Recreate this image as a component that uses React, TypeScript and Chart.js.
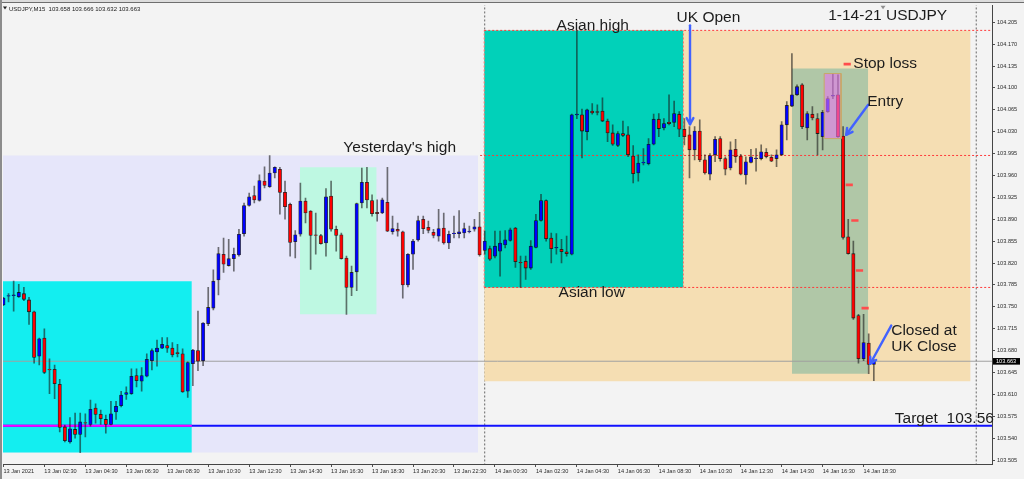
import React, { useEffect, useRef } from "react";
import { Chart, registerables } from "chart.js";

Chart.register(...registerables);

// USDJPY M15 candles, 13 Jan 2021 00:30 through 14 Jan 2021 19:00 (index = bar number)
const opens = [
  103.753, 103.767, 103.768, 103.766, 103.771, 103.761, 103.742, 103.671, 103.700, 103.650,
  103.650, 103.626, 103.558, 103.534, 103.554, 103.546, 103.565, 103.562, 103.588, 103.578,
  103.570, 103.562, 103.582, 103.592, 103.610, 103.611, 103.640, 103.631, 103.639, 103.664,
  103.678, 103.684, 103.688, 103.684, 103.677, 103.675, 103.615, 103.659, 103.680, 103.664,
  103.723, 103.748, 103.793, 103.834, 103.816, 103.827, 103.833, 103.867, 103.912, 103.928,
  103.920, 103.951, 103.942, 103.964, 103.970, 103.933, 103.914, 103.854, 103.866, 103.919,
  103.903, 103.865, 103.864, 103.852, 103.927, 103.874, 103.865, 103.828, 103.781, 103.806,
  103.916, 103.949, 103.920, 103.901, 103.900, 103.917, 103.870, 103.874, 103.870, 103.785,
  103.834, 103.857, 103.890, 103.877, 103.869, 103.863, 103.876, 103.852, 103.867, 103.867,
  103.868, 103.870, 103.874, 103.878, 103.840, 103.843, 103.831, 103.839, 103.849, 103.856,
  103.876, 103.821, 103.823, 103.812, 103.845, 103.888, 103.920, 103.860, 103.844, 103.842,
  103.838, 103.834, 104.057, 104.057, 104.030, 104.063, 104.062, 104.063, 104.047, 104.028,
  104.008, 104.027, 104.025, 103.991, 103.964, 103.980, 103.979, 104.010, 104.050, 104.036,
  104.045, 104.045, 104.058, 104.034, 104.025, 104.001, 104.031, 103.985, 103.962, 103.993,
  104.019, 103.987, 103.972, 104.002, 103.991, 103.961, 103.981, 103.987, 103.987, 103.997,
  103.989, 103.987, 103.993, 104.041, 104.071, 104.089, 104.105, 104.036, 104.058, 104.051,
  104.022, 104.062, 104.087, 104.089, 104.023, 103.862, 103.835, 103.736, 103.667, 103.692,
  103.658,
];
const highs = [
  103.765, 103.771, 103.791, 103.786, 103.781, 103.765, 103.743, 103.700, 103.715, 103.667,
  103.657, 103.634, 103.561, 103.573, 103.580, 103.580, 103.579, 103.601, 103.595, 103.585,
  103.577, 103.599, 103.599, 103.615, 103.622, 103.651, 103.651, 103.653, 103.675, 103.683,
  103.697, 103.701, 103.701, 103.693, 103.690, 103.683, 103.662, 103.682, 103.743, 103.725,
  103.781, 103.809, 103.845, 103.860, 103.858, 103.844, 103.874, 103.916, 103.932, 103.943,
  103.961, 103.974, 103.992, 103.974, 103.973, 103.951, 103.916, 103.872, 103.948, 103.924,
  103.904, 103.900, 103.866, 103.939, 103.951, 103.879, 103.868, 103.831, 103.815, 103.916,
  103.972, 103.973, 103.929, 103.921, 103.924, 103.973, 103.895, 103.884, 103.871, 103.835,
  103.858, 103.895, 103.895, 103.887, 103.874, 103.906, 103.900, 103.871, 103.895, 103.904,
  103.884, 103.879, 103.890, 103.901, 103.871, 103.847, 103.871, 103.871, 103.872, 103.876,
  103.877, 103.831, 103.831, 103.856, 103.898, 103.930, 103.921, 103.868, 103.867, 103.858,
  103.863, 104.058, 104.192, 104.066, 104.066, 104.075, 104.073, 104.084, 104.050, 104.041,
  104.030, 104.047, 104.038, 104.008, 103.993, 104.003, 104.019, 104.058, 104.059, 104.051,
  104.089, 104.079, 104.062, 104.051, 104.038, 104.038, 104.049, 103.993, 103.995, 104.022,
  104.022, 103.990, 104.014, 104.018, 103.994, 103.990, 104.002, 104.003, 104.009, 104.003,
  103.993, 104.001, 104.046, 104.078, 104.155, 104.105, 104.107, 104.062, 104.070, 104.059,
  104.064, 104.086, 104.123, 104.121, 104.038, 103.890, 103.855, 103.738, 103.738, 103.707,
  103.666,
];
const lows = [
  103.752, 103.758, 103.743, 103.765, 103.760, 103.722, 103.660, 103.657, 103.643, 103.611,
  103.603, 103.550, 103.534, 103.532, 103.540, 103.517, 103.542, 103.559, 103.564, 103.562,
  103.548, 103.561, 103.570, 103.590, 103.602, 103.610, 103.622, 103.615, 103.638, 103.649,
  103.655, 103.683, 103.677, 103.670, 103.670, 103.613, 103.605, 103.624, 103.648, 103.656,
  103.720, 103.745, 103.769, 103.805, 103.815, 103.807, 103.831, 103.863, 103.911, 103.916,
  103.919, 103.940, 103.941, 103.956, 103.898, 103.890, 103.831, 103.828, 103.863, 103.884,
  103.810, 103.834, 103.850, 103.831, 103.871, 103.839, 103.826, 103.738, 103.768, 103.776,
  103.908, 103.908, 103.895, 103.887, 103.899, 103.870, 103.866, 103.863, 103.764, 103.782,
  103.810, 103.855, 103.867, 103.868, 103.860, 103.855, 103.850, 103.843, 103.860, 103.860,
  103.860, 103.868, 103.871, 103.831, 103.834, 103.824, 103.828, 103.799, 103.844, 103.855,
  103.813, 103.781, 103.794, 103.810, 103.844, 103.887, 103.855, 103.820, 103.834, 103.820,
  103.831, 103.833, 104.051, 103.988, 104.017, 104.058, 104.057, 104.046, 104.014, 104.008,
  104.006, 104.022, 103.990, 103.948, 103.951, 103.977, 103.977, 104.009, 104.022, 104.033,
  104.041, 104.038, 104.022, 104.009, 103.956, 103.985, 103.982, 103.962, 103.953, 103.982,
  103.983, 103.961, 103.969, 103.981, 103.961, 103.946, 103.980, 103.967, 103.985, 103.988,
  103.982, 103.974, 103.992, 104.017, 104.070, 104.088, 104.035, 104.017, 104.049, 103.993,
  104.001, 104.061, 104.083, 104.021, 103.858, 103.834, 103.730, 103.660, 103.664, 103.643,
  103.632,
];
const closes = [
  103.764, 103.768, 103.769, 103.773, 103.762, 103.742, 103.669, 103.699, 103.645, 103.649,
  103.627, 103.557, 103.536, 103.555, 103.546, 103.566, 103.564, 103.586, 103.578, 103.571,
  103.562, 103.579, 103.591, 103.609, 103.613, 103.639, 103.632, 103.640, 103.666, 103.680,
  103.684, 103.690, 103.684, 103.673, 103.675, 103.614, 103.661, 103.681, 103.663, 103.724,
  103.749, 103.791, 103.835, 103.818, 103.827, 103.834, 103.866, 103.912, 103.926, 103.921,
  103.952, 103.944, 103.964, 103.973, 103.933, 103.910, 103.853, 103.865, 103.919, 103.900,
  103.864, 103.864, 103.851, 103.926, 103.874, 103.864, 103.827, 103.781, 103.805, 103.915,
  103.949, 103.921, 103.899, 103.899, 103.921, 103.871, 103.875, 103.871, 103.785, 103.834,
  103.855, 103.888, 103.875, 103.872, 103.864, 103.875, 103.852, 103.866, 103.868, 103.870,
  103.875, 103.871, 103.878, 103.833, 103.855, 103.826, 103.847, 103.852, 103.857, 103.873,
  103.822, 103.820, 103.812, 103.847, 103.888, 103.920, 103.859, 103.843, 103.845, 103.838,
  103.835, 104.057, 104.058, 104.031, 104.065, 104.060, 104.061, 104.047, 104.028, 104.010,
  104.027, 104.024, 103.993, 103.963, 103.980, 103.981, 104.010, 104.050, 104.035, 104.043,
  104.043, 104.059, 104.034, 104.022, 104.001, 104.031, 103.985, 103.964, 103.992, 104.018,
  103.987, 103.970, 104.001, 103.990, 103.962, 103.982, 103.990, 103.988, 103.998, 103.990,
  103.983, 103.993, 104.041, 104.072, 104.089, 104.102, 104.038, 104.059, 104.052, 104.027,
  104.061, 104.083, 104.088, 104.022, 103.861, 103.835, 103.732, 103.667, 103.693, 103.658,
  103.663,
];

const symbol = "USDJPY,M15";

// bottom axis: one label every 8 bars (2 hours)
const timeLabels = [
  "13 Jan 2021", "13 Jan 02:30", "13 Jan 04:30", "13 Jan 06:30", "13 Jan 08:30", "13 Jan 10:30",
  "13 Jan 12:30", "13 Jan 14:30", "13 Jan 16:30", "13 Jan 18:30", "13 Jan 20:30", "13 Jan 22:30",
  "14 Jan 00:30", "14 Jan 02:30", "14 Jan 04:30", "14 Jan 06:30", "14 Jan 08:30", "14 Jan 10:30",
  "14 Jan 12:30", "14 Jan 14:30", "14 Jan 16:30", "14 Jan 18:30",
];
const labelEvery = 8;

// right axis price labels
const priceTicks = [
  104.205, 104.17, 104.135, 104.1, 104.065, 104.03, 103.995, 103.96, 103.925, 103.89, 103.855,
  103.82, 103.785, 103.75, 103.715, 103.68, 103.645, 103.61, 103.575, 103.54, 103.505,
];

// day separators (bar index of midnight)
const daySeparators = [94, 190];

// session levels
const yesterdayHigh = 103.992;
const yesterdayLow = 103.517;
const earlyAsianHigh = 103.791;
const asianHigh = 104.192;
const asianLow = 103.781;
const targetLevel = 103.56;

// box spans in bars
const yesterdaySpan = [-1, 92.7];
const earlyAsianSpan = [-1, 36.8];
const pullbackSpan = [57.9, 72.9];
const pullbackLevels = [103.973, 103.738];
const asianSpan = [93.9, 132.8];
const sessionSpan = [93.9, 188.9];
const sessionLow = 103.631;
const tradeSpan = [154.0, 168.9];
const tradeLevels = [104.131, 103.643];
const setupSpan = [160.3, 163.6];
const setupLevels = [104.123, 104.019];

// trailing stop marks
const stopBars = [164.8, 165.2, 166.3, 167.2, 168.3];
const stopPrices = [104.138, 103.945, 103.888, 103.808, 103.748];

// arrows: [fromBar, fromPrice, toBar, toPrice]
const arrows = [
  [134.1, 104.2, 134.1, 104.042],
  [168.9, 104.073, 164.6, 104.025],
  [173.4, 103.72, 169.3, 103.659],
];

// text notes: [text, bar, price (baseline), align]
const notes: [string, number, number, CanvasTextAlign][] = [
  ["Yesterday's high", 77.4, 103.997, "center"],
  ["Asian high", 115.1, 104.193, "center"],
  ["Asian low", 114.9, 103.765, "center"],
  ["UK Open", 137.7, 104.205, "center"],
  ["1-14-21 USDJPY", 172.7, 104.209, "center"],
  ["Stop loss", 166.0, 104.132, "left"],
  ["Entry", 168.7, 104.071, "left"],
  ["Closed at", 173.4, 103.705, "left"],
  ["UK Close", 173.4, 103.679, "left"],
  ["Target  103.56", 174.1, 103.565, "left"],
];

const X_MIN = -0.08;
const X_MAX = 193.08;
const Y_MIN = 103.4987;
const Y_MAX = 104.232;

const FONT = "'Liberation Sans', Arial, sans-serif";

function rect(from: number, to: number, top: number, bottom: number, color: string, order: number) {
  return {
    type: "line",
    data: [{ x: from, y: top }, { x: to, y: top }],
    fill: { value: bottom },
    backgroundColor: color,
    borderColor: "transparent",
    borderWidth: 0,
    pointRadius: 0,
    order,
  };
}

function hLine(from: number, to: number, level: number, color: string, width: number, dash: number[], order: number) {
  return {
    type: "line",
    data: [{ x: from, y: level }, { x: to, y: level }],
    borderColor: color,
    borderWidth: width,
    borderDash: dash,
    pointRadius: 0,
    fill: false,
    order,
  };
}

function vLine(at: number, lo: number, hi: number, color: string, width: number, dash: number[], order: number) {
  return {
    type: "line",
    data: [{ x: at, y: lo }, { x: at, y: hi }],
    borderColor: color,
    borderWidth: width,
    borderDash: dash,
    pointRadius: 0,
    fill: false,
    order,
  };
}

const chartDecor = {
  id: "chartDecor",
  beforeDraw(chart: any) {
    const { ctx, width, height } = chart;
    ctx.save();
    ctx.fillStyle = "#f3f3f3";
    ctx.fillRect(0, 0, width, height);
    ctx.restore();
  },
  afterDatasetsDraw(chart: any) {
    const { ctx } = chart;
    const xs = chart.scales.x;
    const ys = chart.scales.y;
    ctx.save();
    // arrows
    ctx.strokeStyle = "#4262ff";
    ctx.lineWidth = 2.4;
    ctx.lineCap = "round";
    ctx.lineJoin = "round";
    for (const [fb, fp, tb, tp] of arrows) {
      const x0 = xs.getPixelForValue(fb);
      const y0 = ys.getPixelForValue(fp);
      const x1 = xs.getPixelForValue(tb);
      const y1 = ys.getPixelForValue(tp);
      ctx.beginPath();
      ctx.moveTo(x0, y0);
      ctx.lineTo(x1, y1);
      ctx.stroke();
      const ang = Math.atan2(y1 - y0, x1 - x0);
      const len = 7;
      const spread = 0.5;
      ctx.beginPath();
      ctx.moveTo(x1 - len * Math.cos(ang - spread), y1 - len * Math.sin(ang - spread));
      ctx.lineTo(x1, y1);
      ctx.lineTo(x1 - len * Math.cos(ang + spread), y1 - len * Math.sin(ang + spread));
      ctx.stroke();
    }
    // notes
    ctx.fillStyle = "#1c1c1c";
    ctx.font = `15.5px ${FONT}`;
    ctx.textBaseline = "alphabetic";
    for (const [text, bar, price, align] of notes) {
      ctx.textAlign = align;
      ctx.fillText(text, xs.getPixelForValue(bar), ys.getPixelForValue(price));
    }
    ctx.restore();
  },
  afterDraw(chart: any) {
    const { ctx, width, height, chartArea } = chart;
    const xs = chart.scales.x;
    const ys = chart.scales.y;
    const last = closes.length - 1;
    ctx.save();
    // window frame
    ctx.fillStyle = "#dcdcdc";
    ctx.fillRect(0, 0, width, 2);
    ctx.fillStyle = "#6e6e6e";
    ctx.fillRect(0, 2, width, 1);
    ctx.fillStyle = "#8c8c8c";
    ctx.fillRect(0, 0, 2, height);
    // header line
    ctx.fillStyle = "#202020";
    ctx.beginPath();
    ctx.moveTo(3, 6.5);
    ctx.lineTo(7, 6.5);
    ctx.lineTo(5, 9.5);
    ctx.closePath();
    ctx.fill();
    ctx.font = `6px ${FONT}`;
    ctx.textAlign = "left";
    ctx.textBaseline = "alphabetic";
    const head = `${symbol}  ${opens[last].toFixed(3)} ${highs[last].toFixed(3)} ${lows[last].toFixed(3)} ${closes[last].toFixed(3)}`;
    ctx.fillText(head, 9, 10.5);
    // chart shift marker
    const sx = xs.getPixelForValue(171.8);
    ctx.fillStyle = "#909090";
    ctx.beginPath();
    ctx.moveTo(sx - 2.5, chartArea.top + 0.5);
    ctx.lineTo(sx + 2.5, chartArea.top + 0.5);
    ctx.lineTo(sx, chartArea.top + 4);
    ctx.closePath();
    ctx.fill();
    // current price tag on the axis
    const py = ys.getPixelForValue(closes[last]);
    ctx.fillStyle = "#000000";
    ctx.fillRect(chartArea.right + 1, py - 3.2, 27, 6.6);
    ctx.fillStyle = "#ffffff";
    ctx.font = `5.6px ${FONT}`;
    ctx.textBaseline = "middle";
    ctx.fillText(closes[last].toFixed(3), chartArea.right + 4, py + 0.3);
    ctx.restore();
  },
};

export default function App() {
  const canvasRef = useRef<HTMLCanvasElement | null>(null);

  useEffect(() => {
    const canvas = canvasRef.current;
    if (!canvas) return;
    const last = closes.length - 1;
    const bars = opens.map((_, i) => i);
    const wickData = bars.map((i) => ({ x: i, y: [lows[i], highs[i]] }));
    const bodyData = bars.map((i) => ({ x: i, y: [opens[i], closes[i]] }));
    const bodyColors = bars.map((i) => (closes[i] >= opens[i] ? "#0000ff" : "#ff0000"));
    const RIGHT = X_MAX + 2;

    const datasets: any[] = [
      rect(yesterdaySpan[0], yesterdaySpan[1], yesterdayHigh, yesterdayLow, "#e6e6fa", 40),
      rect(earlyAsianSpan[0], earlyAsianSpan[1], earlyAsianHigh, yesterdayLow, "#13eef0", 39),
      rect(pullbackSpan[0], pullbackSpan[1], pullbackLevels[0], pullbackLevels[1], "#bef8e2", 38),
      ...daySeparators.map((d) => vLine(d, Y_MIN - 1, Y_MAX + 1, "#666666", 1, [2, 2], 37)),
      rect(sessionSpan[0], sessionSpan[1], asianHigh, sessionLow, "#f5deb3", 36),
      rect(asianSpan[0], asianSpan[1], asianHigh, asianLow, "#01d1b9", 35),
      rect(tradeSpan[0], tradeSpan[1], tradeLevels[0], tradeLevels[1], "#b0c7a7", 34),
      hLine(X_MIN - 2, RIGHT, closes[last], "#a0a0a0", 1, [], 33),
      hLine(asianSpan[0], RIGHT, asianHigh, "#ff3a3a", 1, [2, 2], 32),
      hLine(asianSpan[0], RIGHT, asianLow, "#ff3a3a", 1, [2, 2], 32),
      hLine(asianSpan[0] - 0.8, RIGHT, yesterdayHigh, "#ff3a3a", 1, [2, 2], 32),
      vLine(asianSpan[0], asianLow, asianHigh, "#ff6a6a", 1, [2, 2], 32),
      vLine(asianSpan[1], asianLow, asianHigh, "#ff6a6a", 1, [2, 2], 32),
      hLine(X_MIN - 2, RIGHT, targetLevel, "#1010ff", 2, [], 31),
      hLine(earlyAsianSpan[0], earlyAsianSpan[1], targetLevel, "#ff00ff", 2, [], 30),
      {
        type: "bar",
        data: wickData,
        backgroundColor: "rgba(25,25,25,0.6)",
        borderWidth: 0,
        barThickness: 1,
        grouped: false,
        order: 12,
      },
      {
        type: "bar",
        data: bodyData,
        backgroundColor: bodyColors,
        borderColor: "rgba(0,0,0,0.75)",
        borderWidth: 0.8,
        borderSkipped: false,
        barThickness: 3.4,
        grouped: false,
        order: 11,
      },
      rect(setupSpan[0], setupSpan[1], setupLevels[0], setupLevels[1], "rgba(228,118,236,0.6)", 10),
      {
        type: "line",
        data: [
          { x: setupSpan[0], y: setupLevels[0] },
          { x: setupSpan[1], y: setupLevels[0] },
          { x: setupSpan[1], y: setupLevels[1] },
          { x: setupSpan[0], y: setupLevels[1] },
          { x: setupSpan[0], y: setupLevels[0] },
        ],
        borderColor: "#c8a868",
        borderWidth: 1,
        pointRadius: 0,
        fill: false,
        order: 9,
      },
      {
        type: "line",
        data: stopBars.map((b, i) => ({ x: b, y: stopPrices[i] })),
        showLine: false,
        pointStyle: "line",
        pointRadius: 3.6,
        pointBorderWidth: 2.6,
        pointBorderColor: "#ff4c4c",
        borderColor: "#ff4c4c",
        order: 8,
      },
    ];

    const tickFont = { family: FONT, size: 5.6 };

    const chart = new Chart(canvas, {
      type: "bar",
      data: { datasets },
      plugins: [chartDecor],
      options: {
        responsive: false,
        animation: false,
        devicePixelRatio: 1,
        events: [],
        layout: { autoPadding: false, padding: { left: 3, top: 3, right: 0, bottom: 0 } },
        plugins: { legend: { display: false }, tooltip: { enabled: false } },
        scales: {
          x: {
            type: "linear",
            min: X_MIN,
            max: X_MAX,
            offset: false,
            afterBuildTicks: (s: any) => {
              s.ticks = timeLabels.map((_, k) => ({ value: k * labelEvery }));
            },
            afterFit: (s: any) => {
              s.height = 15;
            },
            ticks: {
              autoSkip: false,
              maxRotation: 0,
              minRotation: 0,
              align: "start",
              padding: 1,
              color: "#2a2a2a",
              font: tickFont,
              callback: (v: any) => timeLabels[Math.round(Number(v) / labelEvery)] ?? "",
            },
            grid: { offset: false, drawOnChartArea: false, drawTicks: true, tickLength: 3, color: "#505050" },
            border: { display: true, color: "#454545", width: 1 },
          },
          y: {
            type: "linear",
            position: "right",
            min: Y_MIN,
            max: Y_MAX,
            afterBuildTicks: (s: any) => {
              s.ticks = priceTicks.map((v) => ({ value: v }));
            },
            afterFit: (s: any) => {
              s.width = 32;
            },
            ticks: {
              autoSkip: false,
              padding: 2,
              color: "#2a2a2a",
              font: tickFont,
              callback: (v: any) => Number(v).toFixed(3),
            },
            grid: { drawOnChartArea: false, drawTicks: true, tickLength: 3, color: "#505050" },
            border: { display: true, color: "#454545", width: 1 },
          },
        },
      } as any,
    } as any);

    return () => chart.destroy();
  }, []);

  return (
    <div style={{ position: "fixed", left: 0, top: 0, width: 1024, height: 479 }}>
      <canvas ref={canvasRef} width={1024} height={479} style={{ display: "block" }} />
    </div>
  );
}
